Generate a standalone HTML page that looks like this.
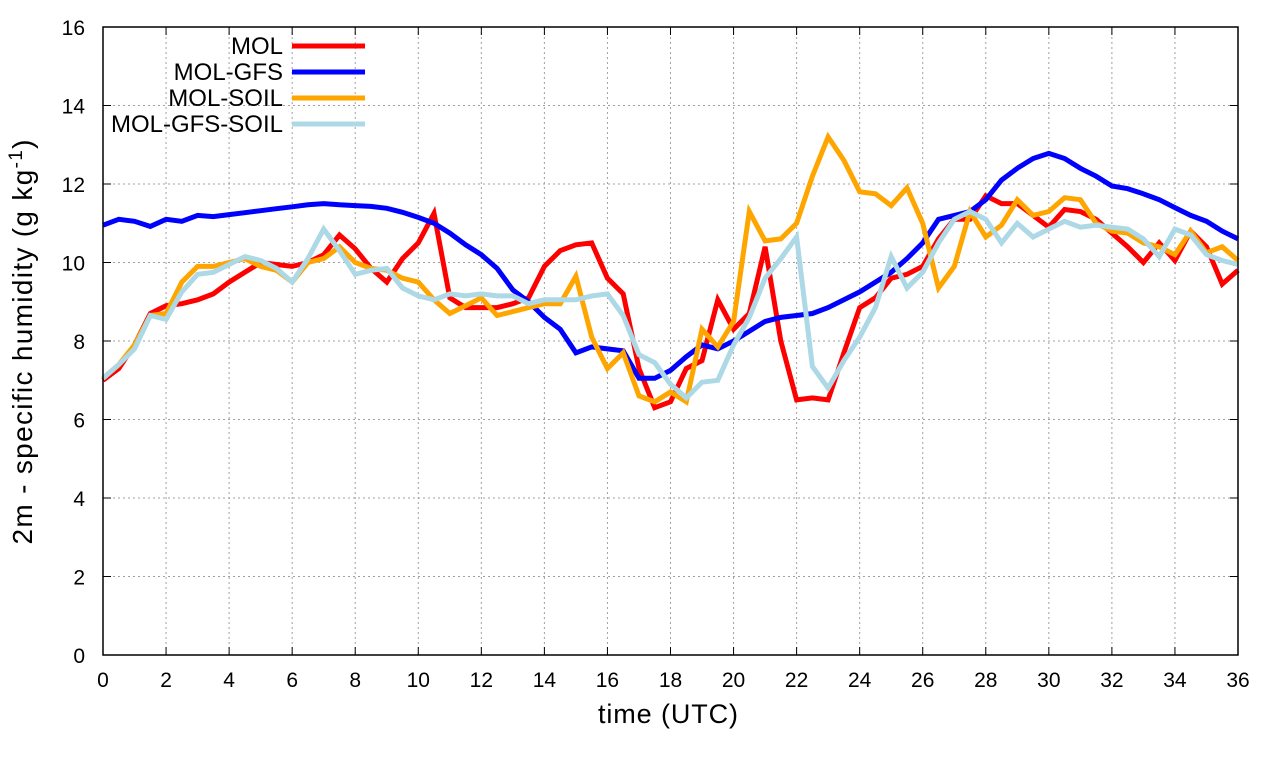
<!DOCTYPE html>
<html><head><meta charset="utf-8"><style>
body{margin:0;background:#fff;}
svg{display:block;font-family:"Liberation Sans",sans-serif;}
</style></head><body>
<svg id="chart" width="1280" height="760" xmlns="http://www.w3.org/2000/svg"></svg>
<script>
const xTicks=[0,2,4,6,8,10,12,14,16,18,20,22,24,26,28,30,32,34,36];
const yTicks=[0,2,4,6,8,10,12,14,16];
const seriesNames=["MOL","MOL-GFS","MOL-SOIL","MOL-GFS-SOIL"];
const seriesColors=["#ff0000","#0000ff","#ffa500","#add8e6"];
const mol=[7.0,7.3,7.9,8.7,8.9,8.95,9.05,9.2,9.5,9.75,10.0,9.95,9.9,10.0,10.2,10.7,10.35,9.85,9.5,10.1,10.5,11.25,9.1,8.85,8.85,8.85,8.95,9.1,9.9,10.3,10.45,10.5,9.6,9.2,7.3,6.3,6.45,7.3,7.5,9.05,8.3,8.7,10.4,8.0,6.5,6.55,6.5,7.7,8.85,9.1,9.6,9.7,9.9,10.6,11.1,11.1,11.7,11.5,11.5,11.2,10.9,11.35,11.3,11.1,10.75,10.4,10.0,10.5,10.05,10.8,10.4,9.45,9.8];
const molGfs=[10.95,11.1,11.05,10.92,11.1,11.05,11.2,11.17,11.22,11.27,11.32,11.37,11.42,11.47,11.5,11.47,11.45,11.43,11.38,11.28,11.15,11.0,10.75,10.45,10.2,9.85,9.3,9.0,8.6,8.3,7.7,7.85,7.8,7.75,7.05,7.05,7.25,7.6,7.9,7.8,8.0,8.25,8.5,8.6,8.65,8.7,8.85,9.05,9.25,9.5,9.75,10.1,10.5,11.1,11.2,11.3,11.6,12.1,12.4,12.65,12.78,12.65,12.4,12.2,11.95,11.88,11.75,11.6,11.4,11.2,11.05,10.8,10.6];
const molSoil=[7.05,7.4,7.9,8.65,8.7,9.5,9.9,9.9,10.0,10.1,9.9,9.8,9.5,10.0,10.1,10.4,10.0,9.85,9.8,9.6,9.5,9.05,8.7,8.9,9.1,8.65,8.75,8.85,8.95,8.95,9.65,8.1,7.3,7.7,6.6,6.45,6.7,6.45,8.3,7.85,8.5,11.3,10.55,10.6,11.0,12.2,13.2,12.6,11.8,11.75,11.45,11.9,11.0,9.35,9.9,11.3,10.65,10.95,11.6,11.2,11.3,11.65,11.6,11.0,10.8,10.75,10.5,10.4,10.2,10.8,10.25,10.4,10.05];
const molGfsSoil=[7.05,7.4,7.8,8.65,8.55,9.25,9.7,9.75,9.95,10.15,10.05,9.85,9.5,10.1,10.85,10.3,9.7,9.8,9.85,9.35,9.15,9.05,9.2,9.15,9.2,9.15,9.15,8.95,9.05,9.05,9.05,9.15,9.2,8.65,7.65,7.45,6.9,6.55,6.95,7.0,7.9,8.6,9.6,10.1,10.65,7.35,6.8,7.5,8.1,8.85,10.15,9.35,9.75,10.5,11.1,11.3,11.1,10.5,11.0,10.65,10.85,11.05,10.9,10.95,10.9,10.85,10.6,10.15,10.85,10.7,10.2,10.05,9.95];
const allSeries=[mol,molGfs,molSoil,molGfsSoil];
const seriesKeys=["mol","mol-gfs","mol-soil","mol-gfs-soil"];

const NS="http://www.w3.org/2000/svg";
const svg=document.getElementById('chart');
const L=103,R=1238,T=27,B=655,XMAX=36,YMAX=16;
const xs=v=>L+(R-L)*v/XMAX;
const ys=v=>B-(B-T)*v/YMAX;
function mk(tag,attrs,parent){const e=document.createElementNS(NS,tag);for(const k in attrs)e.setAttribute(k,attrs[k]);(parent||svg).appendChild(e);return e;}

xTicks.forEach(t=>{if(t>0&&t<XMAX){const g=mk('line',{x1:xs(t),x2:xs(t),y1:T,y2:B,stroke:'#a0a0a0','stroke-width':1,'stroke-dasharray':'2,3'});

}});
yTicks.forEach(t=>{if(t>0&&t<YMAX){const g=mk('line',{x1:L,x2:R,y1:ys(t),y2:ys(t),stroke:'#a0a0a0','stroke-width':1,'stroke-dasharray':'2,3'});

}});

xTicks.forEach(t=>{
 mk('line',{x1:xs(t),x2:xs(t),y1:B,y2:B-8,stroke:'#000'});
 mk('line',{x1:xs(t),x2:xs(t),y1:T,y2:T+8,stroke:'#000'});
 const tx=mk('text',{x:xs(t),y:B+32,'text-anchor':'middle','font-size':21});
 tx.textContent=t;
 
 
});
yTicks.forEach(t=>{
 mk('line',{x1:L,x2:L+8,y1:ys(t),y2:ys(t),stroke:'#000'});
 mk('line',{x1:R,x2:R-8,y1:ys(t),y2:ys(t),stroke:'#000'});
 const tx=mk('text',{x:L-18,y:ys(t)+8,'text-anchor':'end','font-size':21});
 tx.textContent=t;
 
 
});

allSeries.forEach((s,i)=>{
 const pts=s.map((v,j)=>xs(j*0.5).toFixed(1)+','+ys(v).toFixed(1)).join(' ');
 const p=mk('polyline',{points:pts,fill:'none',stroke:seriesColors[i],'stroke-width':5,'stroke-linejoin':'miter'});
 
 
});

const fr=mk('rect',{x:L,y:T,width:R-L,height:B-T,fill:'none',stroke:'#000','stroke-width':1.5});



seriesNames.forEach((n,i)=>{
 const y=46+i*26;
 const t=mk('text',{x:283,y:y+8,'text-anchor':'end','font-size':24});
 t.textContent=n;
 
 
 const l=mk('line',{x1:292,x2:365,y1:y,y2:y,stroke:seriesColors[i],'stroke-width':5});
 
 
});
</script>
<svg style="position:absolute;left:0;top:0" width="1280" height="760">
<text x="668" y="723" text-anchor="middle" font-size="27" textLength="140" font-family="Liberation Sans, sans-serif">time (UTC)</text>
<text transform="translate(32,342) rotate(-90)" text-anchor="middle" font-size="28" textLength="405" font-family="Liberation Sans, sans-serif">2m - specific humidity (g kg<tspan dy="-10" font-size="19">-1</tspan><tspan dy="10">)</tspan></text>
</svg>
</body></html>
